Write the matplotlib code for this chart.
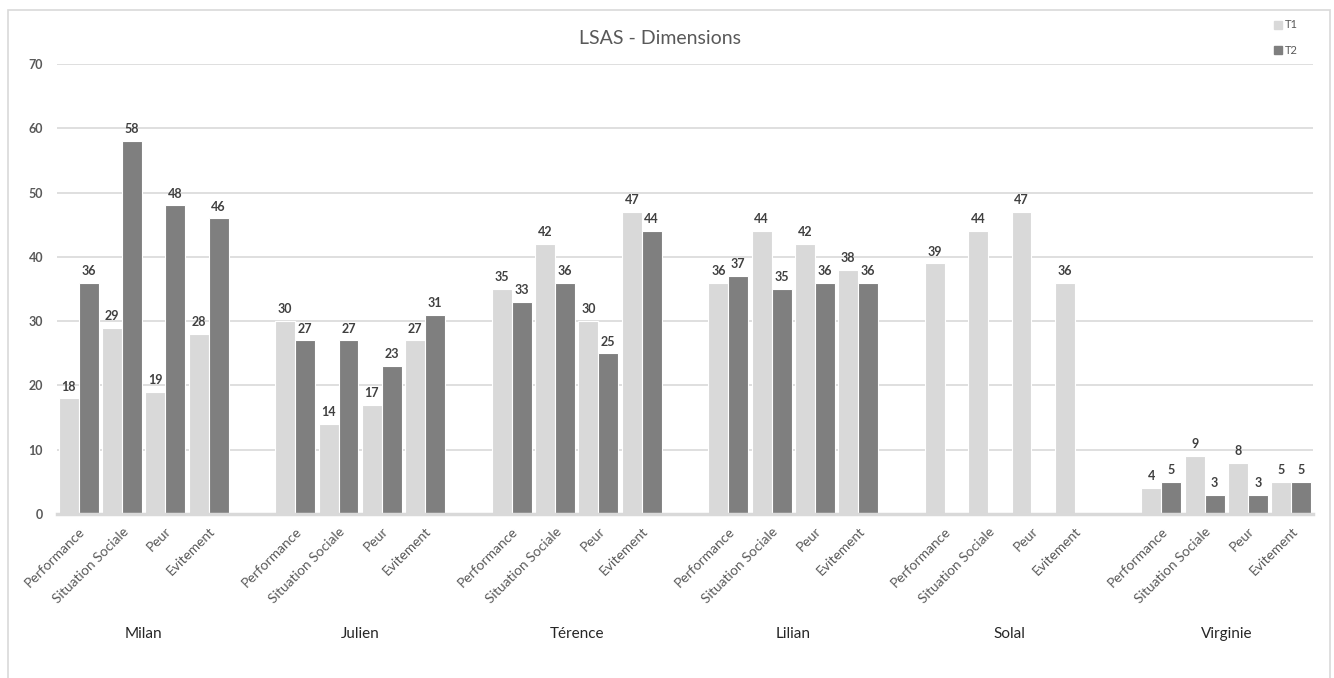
import numpy as np
import matplotlib
matplotlib.use('Agg')
import matplotlib.pyplot as plt
from matplotlib.patches import Rectangle

plt.rcParams['font.family'] = ['Lato', 'DejaVu Sans']

personnes = ['Milan', 'Julien', 'Térence', 'Lilian', 'Solal', 'Virginie']
dimensions = ['Performance', 'Situation Sociale', 'Peur', 'Evitement']
t1 = [[18, 29, 19, 28],
      [30, 14, 17, 27],
      [35, 42, 30, 47],
      [36, 44, 42, 38],
      [39, 44, 47, 36],
      [4, 9, 8, 5]]
t2 = [[36, 58, 48, 46],
      [27, 27, 23, 31],
      [33, 36, 25, 44],
      [37, 35, 36, 36],
      [None, None, None, None],
      [5, 3, 3, 5]]

c_t1 = '#D9D9D9'
c_t2 = '#7F7F7F'
grille = '#D9D9D9'

fig = plt.figure(figsize=(13.34, 6.78), dpi=100)
ax = fig.add_axes([57/1334, 1-514/678, (1313-57)/1334, 450/678])

# cadre du graphique
fig.patches.append(Rectangle((8/1334, -0.01), (1330-8)/1334, 1-10/678+0.01,
                             transform=fig.transFigure, fill=False,
                             edgecolor='#D9D9D9', linewidth=1.2))

# une case vide entre chaque personne
pos = []
for i in range(len(personnes)):
    pos.append(np.arange(4) + i*5)
pos = np.array(pos)

w = 0.46
for i in range(len(personnes)):
    for j in range(4):
        x = pos[i][j]
        ax.bar(x - w/2, t1[i][j], w, color=c_t1, edgecolor='white', linewidth=0.8, zorder=3)
        ax.text(x - w/2, t1[i][j] + 0.9, str(t1[i][j]), ha='center', va='bottom',
                fontsize=9, fontweight='bold', color='#404040')
        if t2[i][j] is not None:
            ax.bar(x + w/2, t2[i][j], w, color=c_t2, edgecolor='white', linewidth=0.8, zorder=3)
            ax.text(x + w/2, t2[i][j] + 0.9, str(t2[i][j]), ha='center', va='bottom',
                    fontsize=9, fontweight='bold', color='#404040')

ax.set_xlim(-0.5, 28.5)
ax.set_ylim(0, 70)
ax.set_yticks(range(0, 71, 10))
ax.set_yticklabels([str(v) for v in range(0, 71, 10)], fontsize=9, fontweight='bold', color='#595959')
ax.yaxis.grid(True, color=grille, linewidth=1.2, zorder=0)
ax.set_axisbelow(True)
for s in ['top', 'right', 'left']:
    ax.spines[s].set_visible(False)
ax.spines['bottom'].set_color(grille)
ax.spines['bottom'].set_linewidth(2.5)
ax.spines['bottom'].set_zorder(4)
ax.tick_params(axis='both', length=0)
ax.tick_params(axis='y', pad=10)

ax.set_xticks(pos.flatten())
ax.set_xticklabels(dimensions * len(personnes), rotation=45, ha='right',
                   rotation_mode='anchor', fontsize=10, color='#595959')
ax.tick_params(axis='x', pad=8)

for i, p in enumerate(personnes):
    ax.text(pos[i].mean(), -18.6, p, ha='center', va='center', fontsize=11, color='#262626')

fig.text(660/1334, 1-38/678, 'LSAS - Dimensions', ha='center', va='center',
         fontsize=14, color='#595959')

# légende
for k, (lab, c) in enumerate([('T1', c_t1), ('T2', c_t2)]):
    y = 1 - (25 + 25*k)/678
    fig.patches.append(Rectangle((1274/1334, y - 4/678), 8/1334, 8/678,
                                 transform=fig.transFigure, color=c))
    fig.text(1285/1334, y, lab, ha='left', va='center', fontsize=8, color='#595959')

fig.savefig('out.png', dpi=100)
